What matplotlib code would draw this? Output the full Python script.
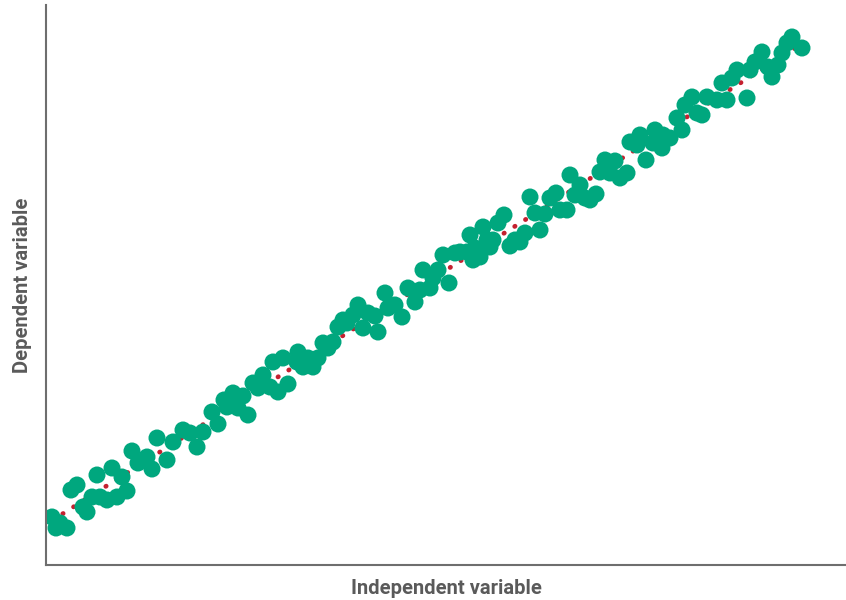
import numpy as np
import matplotlib
matplotlib.use('Agg')
import matplotlib.pyplot as plt

# values (arbitrary units, no ticks on the chart)
x_vals = [6, 10, 14, 21, 25, 31, 37, 41, 46, 51, 54, 61, 66, 71, 76, 81, 86, 92, 101, 106,
          111, 121, 127, 137, 144, 151, 157, 166, 172, 178, 181, 187, 192, 197, 202, 207,
          212, 217, 224, 227, 232, 237, 242, 251, 252, 257, 262, 267, 272, 277, 282, 287,
          292, 297, 301, 307, 312, 317, 322, 329, 332, 339, 342, 349, 356, 362, 369, 374,
          377, 384, 387, 392, 397, 403, 409, 414, 421, 424, 427, 429, 434, 437, 441, 444,
          447, 452, 458, 464, 469, 474, 479, 484, 489, 494, 499, 504, 510, 514, 521, 524,
          529, 534, 539, 544, 550, 554, 559, 564, 569, 574, 581, 584, 591, 594, 600, 607,
          609, 616, 617, 624, 631, 636, 639, 646, 651, 656, 661, 671, 676, 681, 686, 691,
          701, 704, 709, 716, 722, 726, 732, 736, 741, 746, 756]
y_vals = [48, 37, 42, 37, 75, 80, 58, 53, 68, 90, 68, 65, 97, 68, 88, 74, 114, 102, 108, 96,
          127, 105, 123, 135, 132, 118, 133, 153, 141, 165, 158, 172, 157, 169, 150, 182,
          177, 190, 178, 203, 173, 207, 181, 203, 213, 198, 207, 198, 207, 222, 217, 223,
          238, 245, 242, 250, 260, 237, 252, 249, 233, 272, 257, 260, 248, 277, 263, 275,
          295, 277, 287, 295, 310, 282, 312, 313, 313, 330, 305, 317, 308, 338, 325, 318,
          325, 342, 350, 319, 325, 323, 332, 368, 352, 335, 351, 367, 372, 355, 355, 390,
          370, 380, 367, 365, 371, 393, 405, 392, 404, 387, 392, 423, 420, 430, 405, 422,
          435, 417, 430, 427, 447, 435, 460, 468, 452, 450, 468, 465, 482, 465, 487, 495,
          467, 495, 503, 513, 498, 488, 500, 512, 522, 528, 517]

x = np.array(x_vals)
y = np.array(y_vals)
slope, intercept = np.polyfit(x, y, 1)
fit_x = np.array([x.min(), x.max()])
fit_y = slope * fit_x + intercept

fig = plt.figure(figsize=(8.46, 6), dpi=100)
ax = fig.add_axes([46 / 846, 35 / 600, 800 / 846, 560 / 600])

ax.plot(fit_x, fit_y, color='#c4202f', linewidth=3.4,
        linestyle=(0, (0.1, 2.6)), dash_capstyle='round', zorder=1)
ax.scatter(x, y, s=150, color='#00a77e', edgecolors='none', zorder=2)

ax.set_xlim(0, 800)
ax.set_ylim(0, 560)
ax.set_xticks([])
ax.set_yticks([])
for side in ['top', 'right']:
    ax.spines[side].set_visible(False)
for side in ['left', 'bottom']:
    ax.spines[side].set_color('#6e6e6e')
    ax.spines[side].set_linewidth(1.5)

label_font = dict(family=['Roboto', 'DejaVu Sans'],
                  fontsize=14.5, fontweight='bold', color='#5a5a5a')
ax.set_xlabel('Independent variable', labelpad=10, **label_font)
ax.set_ylabel('Dependent variable', labelpad=10, **label_font)

fig.savefig('out.png', dpi=100)
